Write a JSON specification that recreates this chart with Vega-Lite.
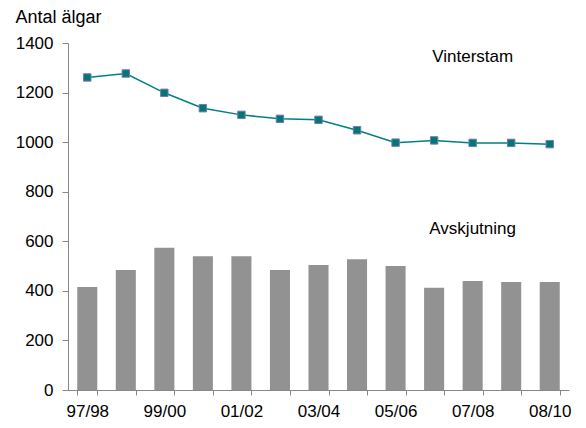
{
  "$schema": "https://vega.github.io/schema/vega-lite/v6.json",
  "width": 501,
  "height": 347,
  "autosize": "none",
  "padding": {"left": 68, "top": 43, "right": 17, "bottom": 38},
  "config": {
    "view": {"stroke": null},
    "font": "Liberation Sans",
    "axis": {"grid": false, "labelFont": "Liberation Sans", "labelFontSize": 17, "labelColor": "#000000", "domainColor": "#888888", "tickColor": "#888888"}
  },
  "data": {
    "values": [
      {"season": "97/98", "avskjutning": 416, "vinterstam": 1261},
      {"season": "98/99", "avskjutning": 484, "vinterstam": 1277},
      {"season": "99/00", "avskjutning": 574, "vinterstam": 1199},
      {"season": "00/01", "avskjutning": 540, "vinterstam": 1137},
      {"season": "01/02", "avskjutning": 540, "vinterstam": 1110},
      {"season": "02/03", "avskjutning": 484, "vinterstam": 1094},
      {"season": "03/04", "avskjutning": 504, "vinterstam": 1090},
      {"season": "04/05", "avskjutning": 528, "vinterstam": 1048},
      {"season": "05/06", "avskjutning": 500, "vinterstam": 998},
      {"season": "06/07", "avskjutning": 413, "vinterstam": 1007},
      {"season": "07/08", "avskjutning": 440, "vinterstam": 997},
      {"season": "08/09", "avskjutning": 436, "vinterstam": 997},
      {"season": "08/10", "avskjutning": 436, "vinterstam": 992}
    ]
  },
  "layer": [
    {
      "mark": {"type": "bar", "color": "#929292"},
      "encoding": {
        "x": {
          "field": "season", "type": "ordinal", "sort": null,
          "scale": {"paddingInner": 0.48, "paddingOuter": 0.24},
          "axis": {
            "title": null, "labelAngle": 0, "tickBand": "extent", "tickSize": 5, "labelPadding": 8,
            "labelExpr": "indexof(['97/98','99/00','01/02','03/04','05/06','07/08','08/10'], datum.value) >= 0 ? datum.value : ''"
          }
        },
        "y": {
          "field": "avskjutning", "type": "quantitative",
          "scale": {"domain": [0, 1400], "nice": false},
          "axis": {
            "values": [0, 200, 400, 600, 800, 1000, 1200, 1400], "format": "d",
            "title": "Antal älgar", "titleAngle": 0, "titleAlign": "left", "titleBaseline": "top",
            "titleX": -53, "titleY": -35, "titleFont": "Liberation Sans", "titleFontSize": 18, "titleFontWeight": "normal", "titleColor": "#000000",
            "tickSize": 6, "labelPadding": 9
          }
        }
      }
    },
    {
      "mark": {"type": "line", "color": "#008080", "strokeWidth": 1.5},
      "encoding": {
        "x": {"field": "season", "type": "ordinal", "sort": null, "bandPosition": 0.5},
        "y": {"field": "vinterstam", "type": "quantitative", "title": "Antal älgar"}
      }
    },
    {
      "mark": {"type": "point", "shape": "square", "filled": true, "fill": "#007878", "stroke": "#7a78a8", "strokeWidth": 1, "opacity": 1, "size": 55},
      "encoding": {
        "x": {"field": "season", "type": "ordinal", "sort": null, "bandPosition": 0.5},
        "y": {"field": "vinterstam", "type": "quantitative", "title": "Antal älgar"}
      }
    },
    {
      "data": {"values": [
        {"season": "07/08", "value": 1343, "label": "Vinterstam"},
        {"season": "07/08", "value": 651, "label": "Avskjutning"}
      ]},
      "mark": {"type": "text", "font": "Liberation Sans", "fontSize": 17, "color": "#000000", "baseline": "middle", "align": "center"},
      "encoding": {
        "x": {"field": "season", "type": "ordinal", "sort": null, "bandPosition": 0.5},
        "y": {"field": "value", "type": "quantitative", "title": "Antal älgar"},
        "text": {"field": "label"}
      }
    }
  ]
}
